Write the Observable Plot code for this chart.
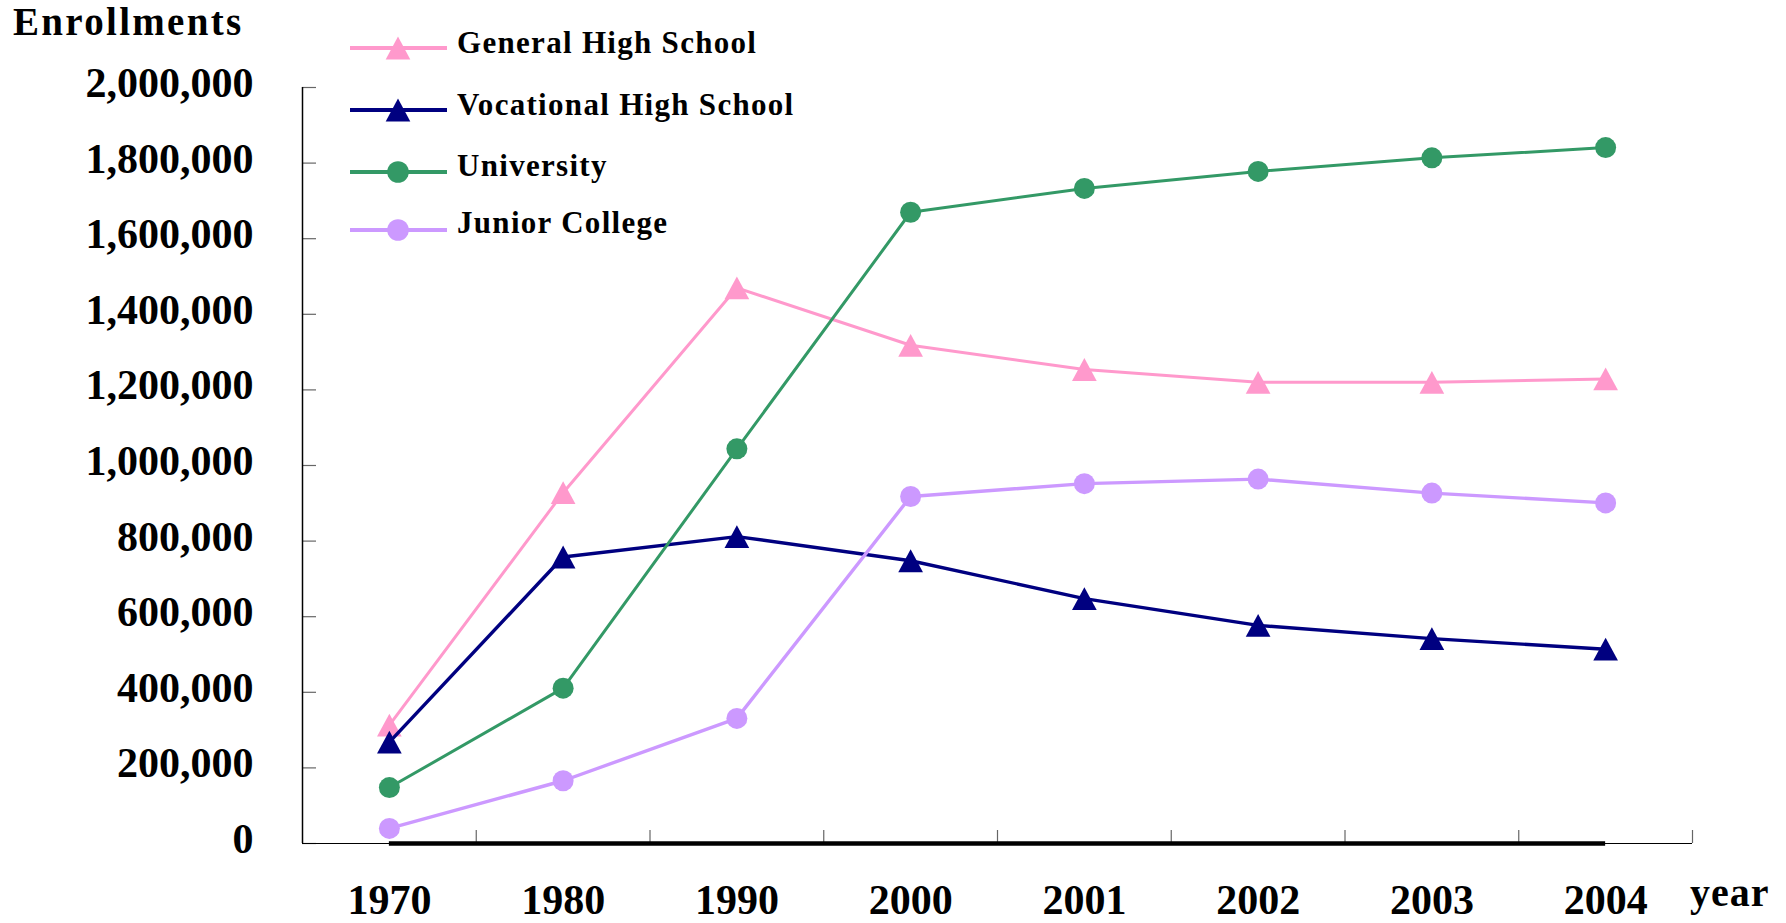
<!DOCTYPE html>
<html>
<head>
<meta charset="utf-8">
<script src="https://cdn.jsdelivr.net/npm/d3@7"></script>
<script src="https://cdn.jsdelivr.net/npm/@observablehq/plot@0.6"></script>
<style>
  html, body { margin: 0; padding: 0; background: #fff; overflow: hidden; }
  #chart { position: relative; width: 1786px; height: 923px;
           font-family: "Liberation Serif", "Times New Roman", serif; font-weight: bold; color: #000; }
  #chart svg { position: absolute; left: 0; top: 0; }
  .lbl { position: absolute; line-height: 1; white-space: nowrap; }
  #ytitle { left: 13px; top: 2px; font-size: 39px; letter-spacing: 2.3px; }
  #xtitle { left: 1690px; top: 873px; font-size: 40px; letter-spacing: 1px; }
  .legend-row { position: absolute; left: 350px; }
  .legend-text { position: absolute; left: 457px; font-size: 31px; letter-spacing: 1.3px; line-height: 1; white-space: nowrap; }
</style>
</head>
<body>
<div id="chart">
  <div id="ytitle" class="lbl">Enrollments</div>
  <div id="xtitle" class="lbl">year</div>
</div>
<script>
// Enrollment counts by school type
const years = ["1970", "1980", "1990", "2000", "2001", "2002", "2003", "2004"];
const generalHigh    = [313000, 928000, 1470000, 1318000, 1254000, 1220000, 1220000, 1229000];
const vocationalHigh = [268000, 758000, 812000, 748000, 648000, 577000, 542000, 514000];
const university     = [148000, 411000, 1044000, 1670000, 1733000, 1778000, 1814000, 1841000];
const juniorCollege  = [40000, 166000, 331000, 918000, 952000, 964000, 927000, 901000];

const seriesNames  = ["General High School", "Vocational High School", "University", "Junior College"];
const seriesValues = [generalHigh, vocationalHigh, university, juniorCollege];
const seriesColors = ["#FF99CC", "#000080", "#339966", "#CC99FF"];
const seriesShapes = ["triangle", "triangle", "circle", "circle"];
const seriesWidths = [3, 3.4, 3, 3.4];
const yTicks = d3.range(0, 2000001, 200000);

// Triangle centered on its bounding box
const triangle = {
  draw(context, size) {
    const r = Math.sqrt(size / Math.PI);
    context.moveTo(0, -1.2 * r);
    context.lineTo(1.3 * r, 1.2 * r);
    context.lineTo(-1.3 * r, 1.2 * r);
    context.closePath();
  }
};

const rows = seriesNames.flatMap((name, s) =>
  years.map((yr, i) => ({series: name, i, year: yr, value: seriesValues[s][i]})));

const W = 1786, H = 923;
const margin = {left: 302, right: 94, top: 87, bottom: 80};
const plotW = W - margin.left - margin.right;
const plotH = H - margin.top - margin.bottom;
const n = years.length;

const seriesMarks = seriesNames.flatMap((name, s) => {
  const data = rows.filter(d => d.series === name);
  return [
    Plot.line(data, {x: "i", y: "value", stroke: seriesColors[s], strokeWidth: seriesWidths[s]}),
    Plot.dot(data, {
      x: "i", y: "value", fill: seriesColors[s], stroke: "none",
      r: seriesShapes[s] === "triangle" ? 9.5 : 10.5,
      symbol: seriesShapes[s] === "triangle" ? triangle : "circle"
    })
  ];
});

const chart = Plot.plot({
  width: W, height: H,
  marginLeft: margin.left, marginRight: margin.right,
  marginTop: margin.top, marginBottom: margin.bottom,
  x: {type: "linear", domain: [-0.5, n - 0.5]},
  y: {type: "linear", domain: [0, 2000000]},
  style: {fontFamily: "'Liberation Serif', 'Times New Roman', serif", fontWeight: "bold", background: "transparent", color: "#000"},
  marks: [
    // inward ticks on the value axis
    Plot.tickY(yTicks, {y: d => d, insetRight: plotW - 14, stroke: "#666", strokeWidth: 1.2}),
    // category boundary ticks on the baseline
    Plot.tickX(d3.range(0.5, n), {x: d => d, insetTop: plotH - 13, stroke: "#666", strokeWidth: 1.2}),
    Plot.ruleX([-0.5], {stroke: "#000", strokeWidth: 1.5}),
    Plot.ruleY([0], {stroke: "#000", strokeWidth: 1.2}),
    Plot.ruleY([0], {x1: 0, x2: n - 1, stroke: "#000", strokeWidth: 4.5}),
    ...seriesMarks,
    Plot.axisY({ticks: yTicks, tickSize: 0, tickPadding: 49, dy: -4, tickFormat: d3.format(","),
                fontSize: 42, fontWeight: "bold", fill: "#000", label: null}),
    Plot.axisX({ticks: d3.range(n), tickSize: 0, tickPadding: 41, tickFormat: i => years[i],
                fontSize: 42, fontWeight: "bold", fill: "#000", label: null})
  ]
});
document.getElementById("chart").prepend(chart);

// Legend
const legendCenters = [48.3, 110, 172.3, 230];
const legendBaselines = [53.3, 115, 176, 233];
const host = document.getElementById("chart");
seriesNames.forEach((name, s) => {
  const row = document.createElement("div");
  row.className = "legend-row";
  row.style.top = (legendCenters[s] - 15) + "px";
  const svg = d3.create("svg").attr("width", 97).attr("height", 30).style("position", "static").style("display", "block");
  svg.append("line").attr("x1", 0).attr("x2", 97).attr("y1", 15).attr("y2", 15)
     .attr("stroke", seriesColors[s]).attr("stroke-width", 4);
  if (seriesShapes[s] === "triangle") {
    svg.append("path").attr("transform", "translate(48,15)")
       .attr("d", "M0,-11.6L12.3,11.6L-12.3,11.6Z").attr("fill", seriesColors[s]);
  } else {
    svg.append("circle").attr("cx", 48).attr("cy", 15).attr("r", 10.8).attr("fill", seriesColors[s]);
  }
  row.appendChild(svg.node());
  host.appendChild(row);
  const t = document.createElement("div");
  t.className = "legend-text";
  t.textContent = name;
  t.style.top = (legendBaselines[s] - 0.8375 * 31) + "px";
  host.appendChild(t);
});
</script>
</body>
</html>
